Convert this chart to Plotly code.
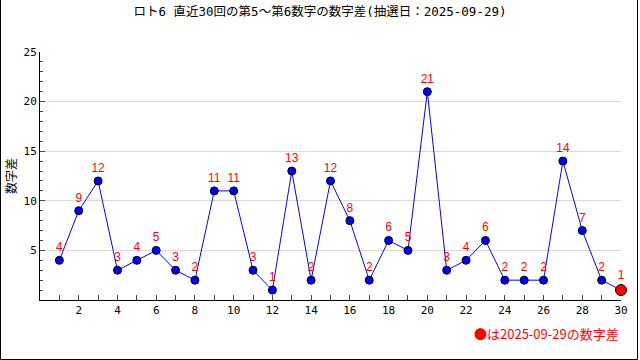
import plotly.graph_objects as go

draws = list(range(1, 31))
diffs = [4, 9, 12, 3, 4, 5, 3, 2, 11, 11, 3, 1, 13, 2, 12, 8, 2, 6, 5, 21,
         3, 4, 6, 2, 2, 2, 14, 7, 2, 1]
x_tick_vals = list(range(0, 31))
x_tick_text = [str(v) if v % 2 == 0 and v > 0 else "" for v in x_tick_vals]
y_tick_vals = [5, 10, 15, 20, 25]
title_text = "ロト6 直近30回の第5～第6数字の数字差(抽選日：2025-09-29)"
y_title = "数字差"
note_text = "●は2025-09-29の数字差"

FONT = "Noto Sans CJK JP"
MONO = "DejaVu Sans Mono, Noto Sans CJK JP"
L, R, T, B = 40, 19, 52, 60
W, H = 640, 360
pw, ph = W - L - R, H - T - B

fig = go.Figure()
fig.add_trace(go.Scatter(
    x=draws, y=diffs, mode="lines+markers+text",
    line=dict(color="#0000ff", width=1),
    marker=dict(size=[8] * (len(diffs) - 1) + [11],
                color=["#0000ff"] * (len(diffs) - 1) + ["#ff0000"],
                opacity=1,
                line=dict(color="black", width=1)),
    text=[str(v) for v in diffs], textposition="top center",
    textfont=dict(color="#ff0000", size=12, family="Liberation Sans"),
    cliponaxis=False, hoverinfo="skip", showlegend=False))

def px(x):
    return (x - L) / pw

def py(y):
    return (H - B - y) / ph

fig.update_layout(
    width=W, height=H, margin=dict(l=L, r=R, t=T, b=B),
    paper_bgcolor="white", plot_bgcolor="white",
    font=dict(family=FONT, size=11, color="black"),
    title=dict(text=title_text, x=0.5, xanchor="center", y=1 - 12 / H, yanchor="middle",
               font=dict(size=12.5, family=MONO, color="black")),
    xaxis=dict(range=[0, 30], tickmode="array", tickvals=x_tick_vals, ticktext=x_tick_text,
               ticks="inside", ticklen=5, automargin=False,
               showline=True, linecolor="black", linewidth=1, showgrid=False,
               zeroline=False, tickfont=dict(size=11, family=MONO)),
    yaxis=dict(range=[0, 25], tickmode="array", tickvals=y_tick_vals,
               ticks="inside", ticklen=5, automargin=False,
               showline=True, linecolor="black", linewidth=1, showgrid=True,
               gridcolor="#d9d9d9", zeroline=False, tickfont=dict(size=11, family=MONO),
               title=dict(text=y_title, font=dict(size=12), standoff=4),
               minor=dict(tickmode="linear", tick0=0, dtick=1, ticks="inside", ticklen=3,
                          showgrid=False)),
    annotations=[dict(text=note_text, xref="paper", yref="paper",
                      x=px(621), y=py(333), xanchor="right", yanchor="middle",
                      showarrow=False, font=dict(color="#ff0000", size=13, family=FONT))],
    shapes=[
        dict(type="line", xref="paper", yref="paper", x0=px(0.5), x1=px(0.5), y0=py(0), y1=py(359.5),
             line=dict(color="black", width=1)),
        dict(type="line", xref="paper", yref="paper", x0=px(637.5), x1=px(637.5), y0=py(0), y1=py(359.5),
             line=dict(color="black", width=1)),
        dict(type="line", xref="paper", yref="paper", x0=px(0.5), x1=px(637.5), y0=py(359.5), y1=py(359.5),
             line=dict(color="black", width=1)),
    ],
)
fig.write_html("out.html", config={"displayModeBar": False},
               post_script="document.body.style.margin='0';")
